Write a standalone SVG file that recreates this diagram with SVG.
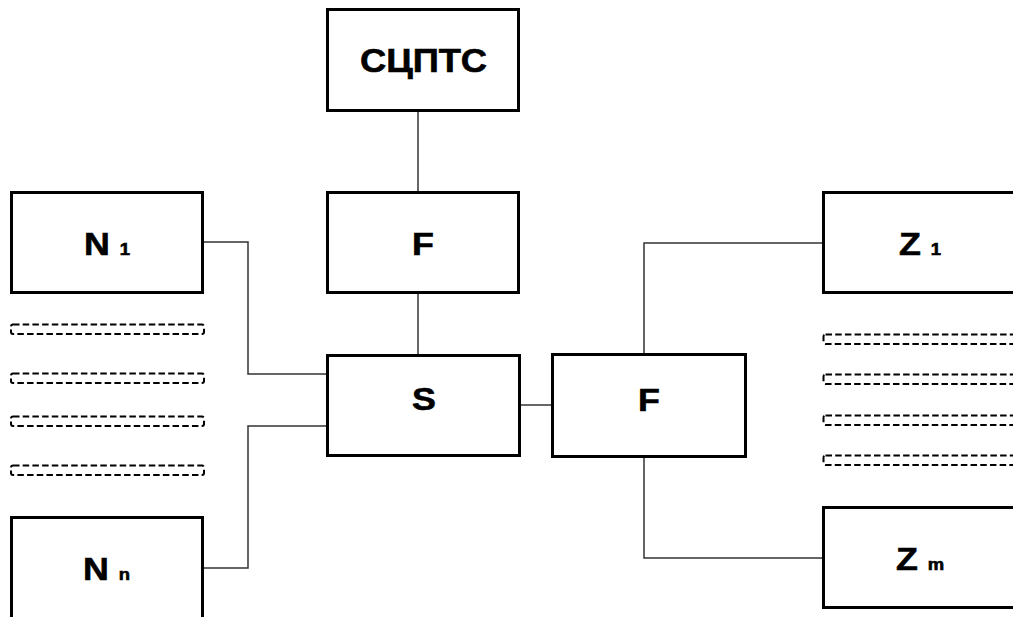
<svg xmlns="http://www.w3.org/2000/svg" width="1013" height="617" viewBox="0 0 1013 617">
<style>
.box{fill:#fff;stroke:#000;stroke-width:3}
.dash{fill:none;stroke:#000;stroke-width:2;stroke-dasharray:6.5 3.2}
.conn{fill:none;stroke:#333;stroke-width:1.5}
.lbl{font-family:"Liberation Sans",Arial,sans-serif;font-weight:bold;font-size:32px;fill:#000;stroke:#000;stroke-width:0.6}
.sub{font-size:16.5px}
</style>
<rect width="1013" height="617" fill="#fff"/>
<g id="connectors">
<path class="conn" d="M418 111V192"/>
<path class="conn" d="M418 293V355"/>
<path class="conn" d="M203 242H248V374H327"/>
<path class="conn" d="M203 568H248V426H327"/>
<path class="conn" d="M520 405H553"/>
<path class="conn" d="M644 354V243H823"/>
<path class="conn" d="M644 457V558H823"/>
</g>
<g id="scptc"><rect class="box" x="327.5" y="9.5" width="191" height="101"/><text class="lbl" transform="translate(423.5 72) scale(1.1 1)" text-anchor="middle" style="font-size:33px">СЦПТС</text></g>
<g id="f-top"><rect class="box" x="327.5" y="192.5" width="191" height="100"/><text class="lbl" transform="translate(423 255) scale(1.12 1)" text-anchor="middle">F</text></g>
<g id="s"><rect class="box" x="327.5" y="355.5" width="192" height="100"/><text class="lbl" transform="translate(424 410) scale(1.12 1)" text-anchor="middle">S</text></g>
<g id="f-right"><rect class="box" x="552.5" y="354.5" width="193" height="102"/><text class="lbl" transform="translate(649 411) scale(1.12 1)" text-anchor="middle">F</text></g>
<g id="n1"><rect class="box" x="11.5" y="192.5" width="191" height="100"/><text class="lbl" transform="translate(84 255) scale(1.12 1)">N <tspan class="sub">1</tspan></text></g>
<g id="nn"><rect class="box" x="11.5" y="517.5" width="191" height="110"/><text class="lbl" transform="translate(83 580) scale(1.12 1)">N <tspan class="sub">n</tspan></text></g>
<g id="z1"><rect class="box" x="823.5" y="192.5" width="210" height="100"/><text class="lbl" transform="translate(899 255) scale(1.12 1)">Z <tspan class="sub">1</tspan></text></g>
<g id="zm"><rect class="box" x="823.5" y="507.5" width="210" height="100"/><text class="lbl" transform="translate(896 570) scale(1.12 1)">Z <tspan class="sub">m</tspan></text></g>
<g id="n-gap">
<rect class="dash" x="11" y="324.5" width="193" height="9.5" rx="2"/>
<rect class="dash" x="11" y="373.5" width="193" height="9.5" rx="2"/>
<rect class="dash" x="11" y="416.5" width="193" height="9.5" rx="2"/>
<rect class="dash" x="11" y="465.5" width="193" height="9.5" rx="2"/>
</g>
<g id="z-gap">
<rect class="dash" x="823.5" y="334.5" width="210" height="9.5" rx="2"/>
<rect class="dash" x="823.5" y="374.5" width="210" height="9.5" rx="2"/>
<rect class="dash" x="823.5" y="415.5" width="210" height="9.5" rx="2"/>
<rect class="dash" x="823.5" y="455.5" width="210" height="9.5" rx="2"/>
</g>
</svg>
